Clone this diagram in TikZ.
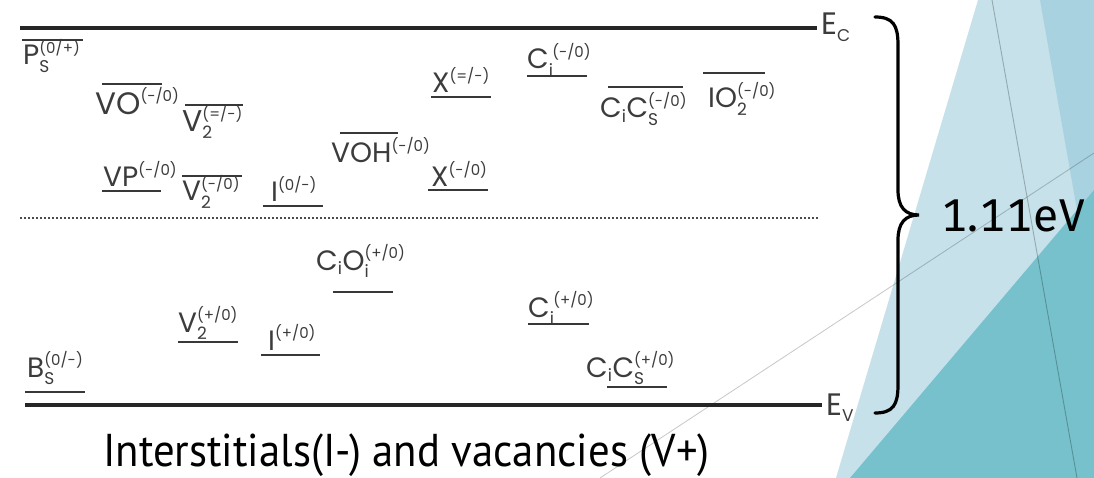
\documentclass[tikz,border=0pt]{standalone}
\usepackage{amsmath}
\usepackage{fontspec}
\setmainfont{Poppins}
\newfontfamily\labfont{Poppins}
\newfontfamily\bigfont[FakeStretch=0.93]{PT Sans}
\newfontfamily\gapfont[Numbers=Monospaced]{Fira Sans}
\definecolor{lightb}{HTML}{C6E1EA}
\definecolor{medb}{HTML}{A9D2E0}
\definecolor{tealb}{HTML}{76C1CB}
\definecolor{levgray}{HTML}{383838}
\definecolor{labgray}{HTML}{3C3C3C}
\newcommand\sB[1]{\text{\fontsize{17}{17}\selectfont #1}}
\newcommand\sP[1]{\text{\fontsize{15}{15}\selectfont #1}}
\newcommand\lv[3]{$\text{#1}_{\sB{#2}}^{\sP{#3}}$}
\newcommand\lvp[2]{$\text{#1}^{\sP{#2}}$}
\tikzset{
  lev/.style={line width=2.2pt, draw=levgray},
  band/.style={line width=3.4pt, draw=black!85},
  lab/.style={anchor=base west, inner sep=0pt, text=labgray, font=\labfont\fontsize{28}{28}\selectfont},
  edgelab/.style={anchor=base west, inner sep=0pt, text=labgray, font=\labfont\fontsize{31}{31}\selectfont},
  big/.style={anchor=base west, inner sep=0pt, text=black, font=\bigfont\fontsize{46}{46}\selectfont},
  gaplab/.style={anchor=base west, inner sep=0pt, text=black, font=\gapfont\fontsize{46}{46}\selectfont},
}
\begin{document}
\begin{tikzpicture}[x=1pt,y=-1pt]
\useasboundingbox (0,0) rectangle (1094,478);
\fill[white] (0,0) rectangle (1094,478);
% background decoration
\fill[lightb] (978,0) -- (1094,0) -- (1094,478) -- (836,478) -- cycle;
\fill[medb] (1040,0) -- (1094,0) -- (1094,190) -- (1077,210) -- cycle;
\fill[tealb] (850,478) -- (1094,190) -- (1094,478) -- cycle;
\draw[black, opacity=0.25, line width=0.9pt] (992,0) -- (1077,478);
\draw[black, opacity=0.22, line width=0.8pt] (600,478) -- (1094,153);
% band edges
\draw[band] (20,28) -- (817,28);
\draw[band] (25,405) -- (822,405);
\draw[black!70, line width=2pt, dash pattern=on 2pt off 2pt] (20,218) -- (818,218);
\node[edgelab] (ec) at (821,35) {\lv{E}{C}{}};
\node[edgelab] (ev) at (826,415) {\lv{E}{V}{}};
% levels
\node[lab] (ps) at (23,65) {\lv{P}{S}{(0/+)}};
\draw[lev] (22,40) -- (83,40);
\node[lab, font=\labfont\fontsize{31}{31}\selectfont] (vo) at (95,115) {\lvp{VO}{(-/0)}};
\draw[lev] (102,84) -- (162,84);
\node[lab, font=\labfont\fontsize{30}{30}\selectfont] (v2a) at (182,132) {\lv{V}{2}{(=/-)}};
\draw[lev] (185,105) -- (243,105);
\node[lab] (vp) at (103,187) {\lvp{VP}{(-/0)}};
\draw[lev] (102,191) -- (161,191);
\node[lab] (v2b) at (182,201) {\lv{V}{2}{(-/0)}};
\draw[lev] (182,176) -- (242,176);
\node[lab] (i0) at (271,202) {\lvp{I}{(0/-)}};
\draw[lev] (263,206) -- (323,206);
\node[lab] (voh) at (331,163) {\lvp{VOH}{(-/0)}};
\draw[lev] (340,133) -- (398,133);
\node[lab] (xb) at (431,187) {\lvp{X}{(-/0)}};
\draw[lev] (428,190) -- (488,190);
\node[lab] (xa) at (432,93) {\lvp{X}{(=/-)}};
\draw[lev] (431,97) -- (491,97);
\node[lab] (cia) at (527,69) {$\text{C}_{\sB{i}}^{\,\sP{(-/0)}}$};
\draw[lev] (527,76) -- (587,76);
\node[lab] (cicsa) at (600,118) {$\text{C}_{\sB{i}}\text{C}_{\sB{S}}^{\sP{(-/0)}}$};
\draw[lev] (608,87) -- (683,87);
\node[lab] (io2) at (708,108) {\lv{IO}{2}{(-/0)}};
\draw[lev] (703,73) -- (765,73);
\node[lab] (cioi) at (316,270) {$\text{C}_{\sB{i}}\text{O}_{\sB{i}}^{\sP{(+/0)}}$};
\draw[lev] (333,292) -- (393,292);
\node[lab] (v2c) at (178,332) {\lv{V}{2}{(+/0)}};
\draw[lev] (178,342) -- (238,342);
\node[lab] (ip) at (268,350) {\lvp{I}{(+/0)}};
\draw[lev] (261,355) -- (320,355);
\node[lab] (bs) at (27,377) {\lv{B}{S}{(0/-)}};
\draw[lev] (25,392) -- (85,392);
\node[lab] (cib) at (528,317) {$\text{C}_{\sB{i}}^{\,\sP{(+/0)}}$};
\draw[lev] (528,324) -- (589,324);
\node[lab] (cicsb) at (586,377) {$\text{C}_{\sB{i}}\text{C}_{\sB{S}}^{\sP{(+/0)}}$};
\draw[lev] (607,387) -- (667,387);
% brace
\draw[black, line width=3.2pt, line cap=round]
  (875,17) .. controls (893,17) and (898,25) .. (898,45) -- (898,190)
  .. controls (898,207) and (905,215) .. (919,215)
  .. controls (905,215) and (898,223) .. (898,240) -- (898,385)
  .. controls (898,405) and (893,413) .. (875,413);
\node[gaplab] (gap) at (941,232) {\addfontfeature{LetterSpace=2}1.11eV};
\node[big] (cap) at (103,466) {Interstitials(I-) and vacancies (V+)};
\end{tikzpicture}
\end{document}
